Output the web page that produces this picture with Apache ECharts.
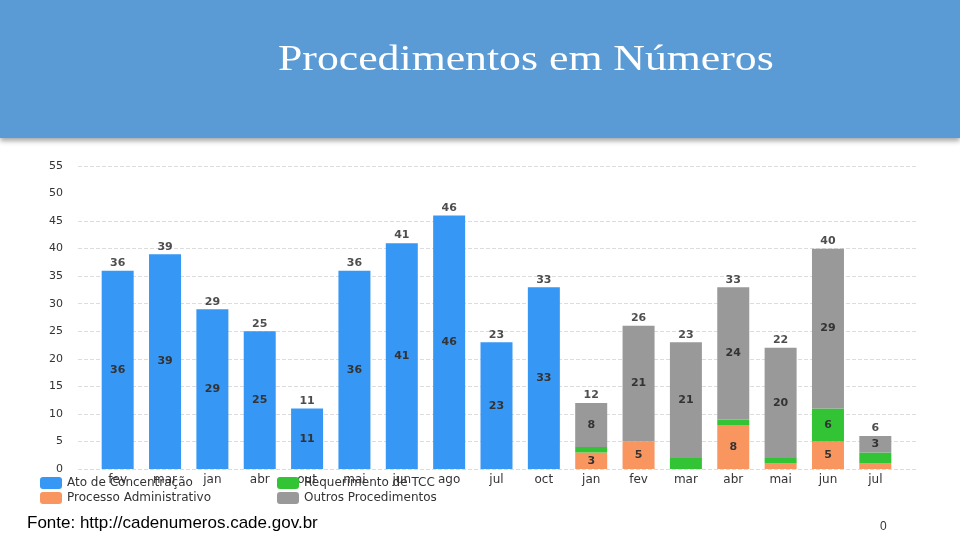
<!DOCTYPE html>
<html>
<head>
<meta charset="utf-8">
<script src="https://cdn.jsdelivr.net/npm/echarts@6/dist/echarts.min.js"></script>
<style>
html,body{margin:0;padding:0;background:#fff;}
#chart{width:960px;height:540px;}
</style>
</head>
<body>
<div id="chart"></div>
<script>
const categories = ["fev","mar","jan","abr","out","mai","jun","ago","jul","oct","jan","fev","mar","abr","mai","jun","jul"];
const atoConcentracao = [36,39,29,25,11,36,41,46,23,33,'-','-','-','-','-','-','-'];
const processoAdministrativo = ['-','-','-','-','-','-','-','-','-','-',3,5,0,8,1,5,1];
const requerimentoTCC = ['-','-','-','-','-','-','-','-','-','-',1,0,2,1,1,6,2];
const outrosProcedimentos = ['-','-','-','-','-','-','-','-','-','-',8,21,21,24,20,29,3];
const yTicks = [0,5,10,15,20,25,30,35,40,45,50,55];
const gridLineValues = [0,5,10,15,20,25,30,35,40,45,55]; // no 50 line in the reference

const num = v => (v === '-' ? 0 : v);
const totals = categories.map((c, i) =>
  num(atoConcentracao[i]) + num(processoAdministrativo[i]) + num(requerimentoTCC[i]) + num(outrosProcedimentos[i]));

const FONT = 'DejaVu Sans';
const insideLabel = {
  show: true, position: 'inside', color: '#333', fontFamily: FONT, fontSize: 11, fontWeight: 'bold',
  formatter: p => (p.value >= 3 ? p.value : '')
};

const chart = echarts.init(document.getElementById('chart'));
chart.setOption({
  animation: false,
  backgroundColor: '#ffffff',
  graphic: [
    { type: 'rect', shape: { x: 0, y: 0, width: 960, height: 138 },
      style: { fill: '#5B9BD5', shadowBlur: 5, shadowOffsetY: 3, shadowColor: 'rgba(0,0,0,0.35)' }, z: 0 },
    { type: 'text', x: 278, y: 43, scaleX: 1.25,
      style: { text: 'Procedimentos em Números', fill: '#ffffff', font: '35px "Liberation Serif"' }, z: 1 },
    { type: 'text', left: 27, top: 515,
      style: { text: 'Fonte: http://cadenumeros.cade.gov.br', fill: '#000', font: '17px "Liberation Sans Narrow", "Liberation Sans"' } },
    { type: 'text', left: 880, top: 521,
      style: { text: '0', fill: '#333', font: '12px "Liberation Sans"' } }
  ],
  grid: [
    { left: 94, right: 61, top: 166, bottom: 71, containLabel: false },
    { left: 78, right: 42, top: 166, bottom: 71, containLabel: false }
  ],
  legend: [
    { orient: 'vertical', left: 35, top: 472, itemWidth: 22, itemHeight: 12, itemGap: 3,
      data: ['Ato de Concentração', 'Processo Administrativo'],
      textStyle: { color: '#333', fontFamily: FONT, fontSize: 12 } },
    { orient: 'vertical', left: 272, top: 472, itemWidth: 22, itemHeight: 12, itemGap: 3,
      data: ['Requerimento de TCC', 'Outros Procedimentos'],
      textStyle: { color: '#333', fontFamily: FONT, fontSize: 12 } }
  ],
  xAxis: [
    { type: 'category', data: categories, gridIndex: 0,
      axisLine: { show: false }, axisTick: { show: false },
      axisLabel: { color: '#333', fontFamily: FONT, fontSize: 12, margin: 5 } },
    { type: 'value', gridIndex: 1, show: false, min: 0, max: 1 }
  ],
  yAxis: [
    { type: 'value', gridIndex: 0, min: 0, max: 55, interval: 5,
      axisLine: { show: false }, axisTick: { show: false },
      axisLabel: { color: '#333', fontFamily: FONT, fontSize: 11, margin: 31,
        formatter: v => (yTicks.includes(v) ? String(v) : '') },
      splitLine: { show: false } },
    { type: 'value', gridIndex: 1, min: 0, max: 55, interval: 5, show: false,
      splitLine: { show: false } }
  ],
  series: [
    { name: 'gridlines', type: 'line', xAxisIndex: 1, yAxisIndex: 1, data: [], silent: true,
      z: 0,
      markLine: {
        z: 0, silent: true, symbol: 'none', label: { show: false },
        lineStyle: { color: '#dcdcdc', type: 'dashed', width: 1 },
        data: gridLineValues.map(v => ({ yAxis: v }))
      } },
    { name: 'Ato de Concentração', type: 'bar', stack: 'total', barWidth: 32, z: 3,
      data: atoConcentracao, itemStyle: { color: '#3797F5' }, label: insideLabel },
    { name: 'Processo Administrativo', type: 'bar', stack: 'total', barWidth: 32, z: 3,
      data: processoAdministrativo, itemStyle: { color: '#F9965F' }, label: insideLabel },
    { name: 'Requerimento de TCC', type: 'bar', stack: 'total', barWidth: 32, z: 3,
      data: requerimentoTCC, itemStyle: { color: '#33C435' }, label: insideLabel },
    { name: 'Outros Procedimentos', type: 'bar', stack: 'total', barWidth: 32, z: 3,
      data: outrosProcedimentos, itemStyle: { color: '#999999' }, label: insideLabel },
    { name: 'Total', type: 'scatter', symbolSize: 0, data: totals, silent: true, z: 4,
      label: { show: true, position: 'top', distance: 2, color: '#222', fontFamily: FONT, fontSize: 11, fontWeight: 'bold' } }
  ]
});
</script>
</body>
</html>
